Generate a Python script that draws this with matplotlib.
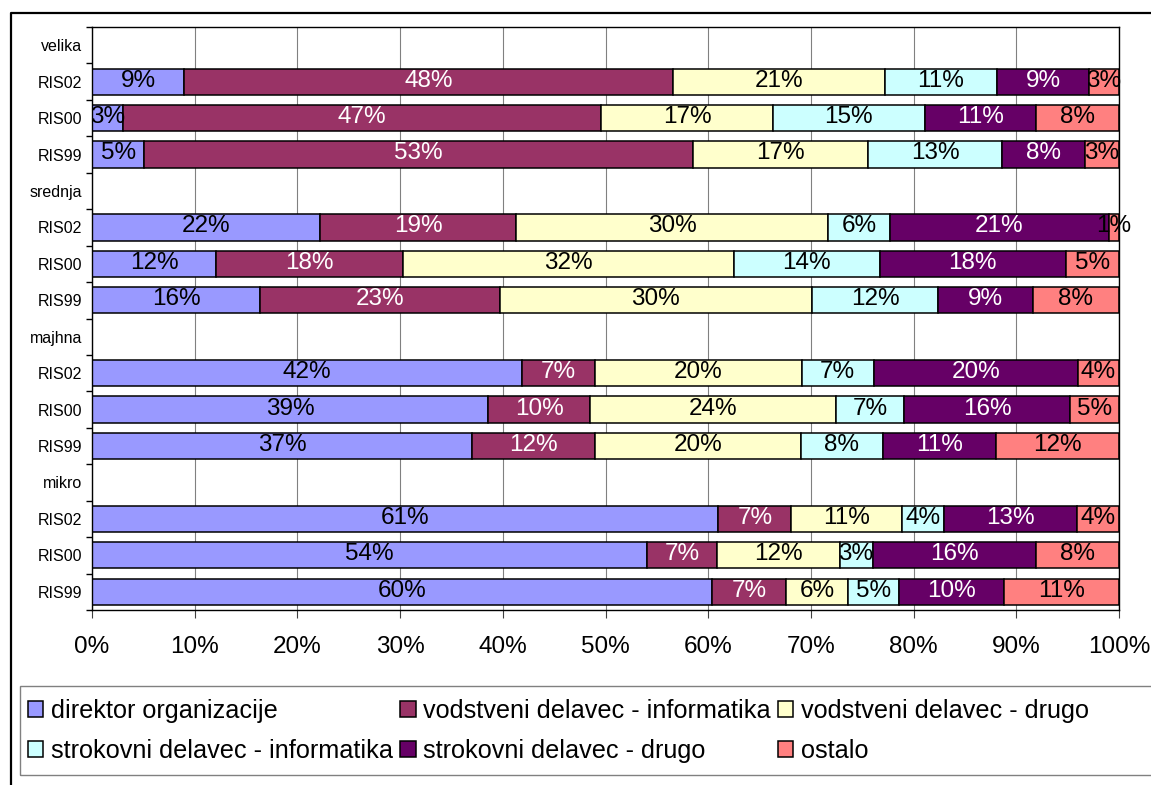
import numpy as np
import matplotlib
matplotlib.use("Agg")
import matplotlib.pyplot as plt
from matplotlib.patches import Patch, Rectangle
from matplotlib.lines import Line2D

plt.rcParams['font.family'] = ['Liberation Sans', 'DejaVu Sans']

# row labels, top to bottom (group header rows have no bar)
groups = ['velika', 'srednja', 'majhna', 'mikro']
years = ['RIS02', 'RIS00', 'RIS99']

series_names = ['direktor organizacije', 'vodstveni delavec - informatika',
                'vodstveni delavec - drugo', 'strokovni delavec - informatika',
                'strokovni delavec - drugo', 'ostalo']
colors = ['#9999FF', '#993366', '#FFFFCC', '#CCFFFF', '#660066', '#FF8080']
text_colors = ['black', 'white', 'black', 'black', 'white', 'black']

# shares in %, rows: velika 02/00/99, srednja 02/00/99, majhna ..., mikro ...
direktor = [9.0, 3.0, 5.1, 22.2, 12.1, 16.4, 41.9, 38.6, 37.0, 61.0, 54.0, 60.4]
vod_inf = [47.6, 46.6, 53.4, 19.1, 18.2, 23.3, 7.1, 9.9, 12.0, 7.1, 6.9, 7.2]
vod_drugo = [20.6, 16.7, 17.1, 30.4, 32.2, 30.4, 20.1, 23.9, 20.0, 10.8, 11.9, 6.0]
strok_inf = [10.9, 14.8, 13.0, 6.0, 14.2, 12.3, 7.0, 6.7, 8.0, 4.1, 3.2, 5.0]
strok_drugo = [9.0, 10.8, 8.1, 21.3, 18.1, 9.2, 19.9, 16.1, 11.0, 12.9, 15.9, 10.2]
ostalo = [2.9, 8.1, 3.3, 1.0, 5.2, 8.4, 4.0, 4.8, 12.0, 4.1, 8.1, 11.2]

data = np.array([direktor, vod_inf, vod_drugo, strok_inf, strok_drugo, ostalo])
data = data / data.sum(axis=0) * 100  # 100% stacked

row_labels = []
bar_pos = []
for g in groups:
    row_labels.append(g)
    for yr in years:
        bar_pos.append(len(row_labels))
        row_labels.append(yr)
bar_pos = np.array(bar_pos)

W, H = 1151, 785
fig = plt.figure(figsize=(W / 100, H / 100), dpi=100)
ax = fig.add_axes([92 / W, 175 / H, 1027 / W, 583 / H])

left = np.zeros(len(bar_pos))
handles = []
for j in range(len(series_names)):
    vals = data[j]
    ax.barh(bar_pos, vals, left=left, height=0.72, color=colors[j],
            edgecolor='black', linewidth=1.1, zorder=2)
    for y, l, v in zip(bar_pos, left, vals):
        ax.text(l + v / 2, y - 0.03, f"{round(v)}%", ha='center', va='center',
                fontsize=17.5, color=text_colors[j], zorder=3, clip_on=False)
    left += vals
    handles.append(Patch(facecolor=colors[j], edgecolor='black', linewidth=1.1))

ax.set_xlim(0, 100)
ax.set_ylim(len(row_labels) - 0.5, -0.5)
ax.set_xticks(np.arange(0, 101, 10))
ax.set_xticklabels([f"{v}%" for v in range(0, 101, 10)], fontsize=17.5)
ax.set_yticks(np.arange(len(row_labels)))
ax.set_yticklabels(row_labels, fontsize=11.5)
ax.set_yticks(np.arange(len(row_labels) + 1) - 0.5, minor=True)
ax.tick_params(axis='y', which='major', length=0, pad=7)
ax.tick_params(axis='y', which='minor', length=4, width=1, direction='out')
ax.tick_params(axis='x', length=6, width=0.8, color='#404040', direction='out', pad=13)
ax.xaxis.grid(True, color='#808080', linewidth=0.8)
ax.set_axisbelow(True)
for s in ax.spines.values():
    s.set_color('black')
    s.set_linewidth(1.0)

# legend (row-major order like the original)
order = [0, 3, 1, 4, 2, 5]
fig.legend([handles[i] for i in order], [series_names[i] for i in order],
           ncol=3, loc='upper left', bbox_to_anchor=(28 / W, 1 - 699 / H),
           frameon=False, fontsize=18.2, handlelength=0.6, handleheight=0.6,
           handletextpad=0.3, columnspacing=0.3, labelspacing=0.62,
           borderpad=0, borderaxespad=0)
fig.patches.append(Rectangle((20 / W, 1 - 775 / H), 1.2, 89 / H, transform=fig.transFigure,
                             fill=False, edgecolor='#808080', linewidth=1.0))

# outer chart frame
fig.lines.append(Line2D([11 / W, 11 / W, 1.0], [0.0, 1 - 13 / H, 1 - 13 / H],
                        transform=fig.transFigure, color='black', linewidth=1.6))

fig.savefig('out.png', dpi=100)
